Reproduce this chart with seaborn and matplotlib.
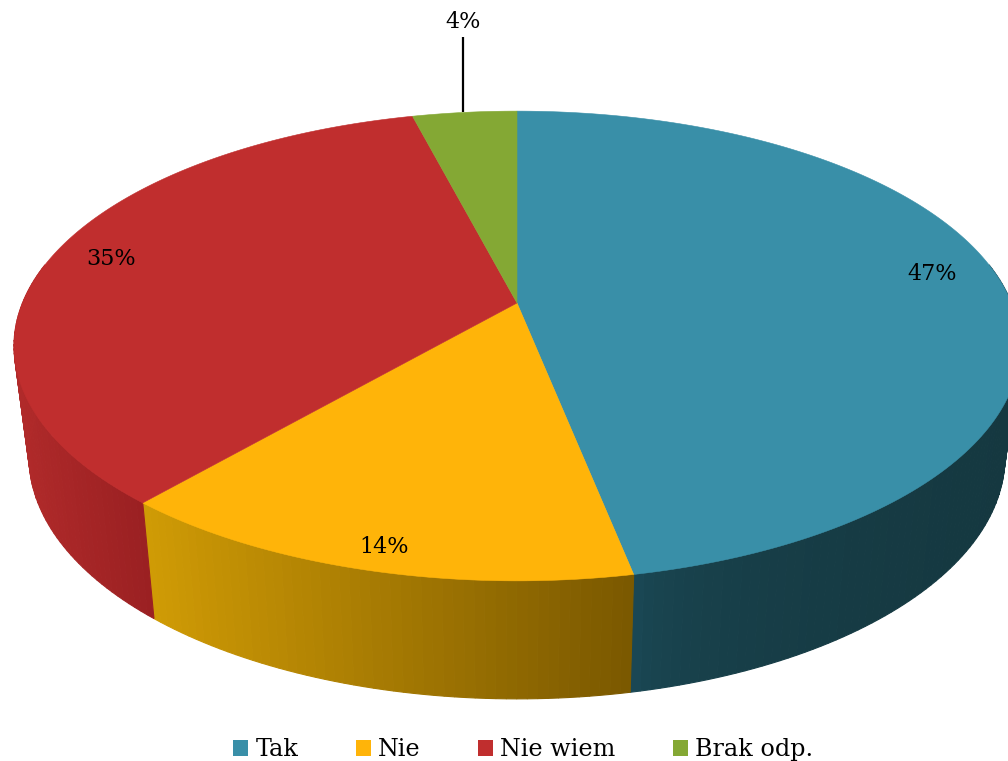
import numpy as np
import matplotlib
matplotlib.use("Agg")
import matplotlib.pyplot as plt
import matplotlib.colors as mc
from matplotlib.patches import Patch
import seaborn as sns

categories = ["Tak", "Nie", "Nie wiem", "Brak odp."]
values = [46.9, 14.4, 34.7, 4.0]
labels = ["47%", "14%", "35%", "4%"]

top_hex = ["#398FA8", "#FFB409", "#C02E2E", "#84A834"]
side_left_hex = ["#1C4D5B", "#D09B05", "#B02A2A", "#6A8A2A"]
side_right_hex = ["#153840", "#7A5800", "#9A2022", "#6A8A2A"]
side_gamma = [0.3, 1.0, 1.0, 1.0]
label_xy = [(932, 274), (384, 547), (111, 259), (463, 22)]

sns.set_theme(style="white")
plt.rcParams["font.family"] = ["DejaVu Serif"]
palette = sns.color_palette(top_hex)

CX, CY = 517.0, 303.0
A, B, K = 494.5, 227.0, 0.183
X_SHRINK, Y_SCALE, Y_SHIFT = 0.97, 1.03, 100.6
W, H = 1008, 761


def top_xy(theta, r=1.0):
    X, Y = r * np.sin(theta), r * np.cos(theta)
    d = 1 + K * Y
    return CX + A * X / d, CY - B * Y / d


def bottom_xy(theta):
    x, y = top_xy(theta)
    return CX + (x - CX) * X_SHRINK, Y_SCALE * y + Y_SHIFT


fig, ax = plt.subplots(figsize=(W / 100, H / 100), dpi=100)
ax.set_position([0, 0, 1, 1])
ax.set_xlim(0, W)
ax.set_ylim(H, 0)
ax.axis("off")

edges = 2 * np.pi * np.concatenate([[0], np.cumsum(values)]) / np.sum(values)

# side wall: thin strips, shaded left to right across each slice
front_lo, front_hi = np.radians(80), np.radians(280)
for i in range(len(values)):
    lo, hi = max(edges[i], front_lo), min(edges[i + 1], front_hi)
    if hi <= lo:
        continue
    n = max(2, int(np.degrees(hi - lo)))
    ts = np.linspace(lo, hi, n + 1)
    xs_ref = top_xy(ts)[0]
    xmin, xmax = xs_ref.min(), xs_ref.max()
    cl, cr = np.array(mc.to_rgb(side_left_hex[i])), np.array(mc.to_rgb(side_right_hex[i]))
    for t0, t1 in zip(ts[:-1], ts[1:]):
        xa, ya = top_xy(np.array([t0, t1]))
        xb, yb = bottom_xy(np.array([t0, t1]))
        f = (0.5 * (xa[0] + xa[1]) - xmin) / max(xmax - xmin, 1)
        col = cl + (cr - cl) * f ** side_gamma[i]
        ax.fill([xa[0], xa[1], xb[1], xb[0]], [ya[0], ya[1], yb[1], yb[0]],
                color=col, lw=0.8, zorder=1)

# top surface
for i in range(len(values)):
    ts = np.linspace(edges[i], edges[i + 1], 300)
    x, y = top_xy(ts)
    ax.fill(np.r_[CX, x], np.r_[CY, y], color=palette[i], lw=0.4, zorder=2)

# labels
for i, (txt, (lx, ly)) in enumerate(zip(labels, label_xy)):
    ax.text(lx, ly, txt, ha="center", va="center", fontsize=16, color="black", zorder=4)

# leader line for the smallest slice
mid = 0.5 * (edges[3] + edges[4])
mx, my = top_xy(mid)
ax.plot([mx - 1.5, mx - 1.5], [my, 37], color="black", lw=1.6, zorder=3, solid_capstyle="butt")

handles = [Patch(facecolor=c, edgecolor="none") for c in palette]
ax.legend(handles, categories, ncol=4, loc="lower center", bbox_to_anchor=(0.519, -0.016),
          frameon=False, fontsize=17.2, handlelength=0.63, handleheight=0.63,
          handletextpad=0.3, columnspacing=2.4, borderpad=0, labelcolor="black")

fig.savefig("out.png", dpi=100, facecolor="white")
